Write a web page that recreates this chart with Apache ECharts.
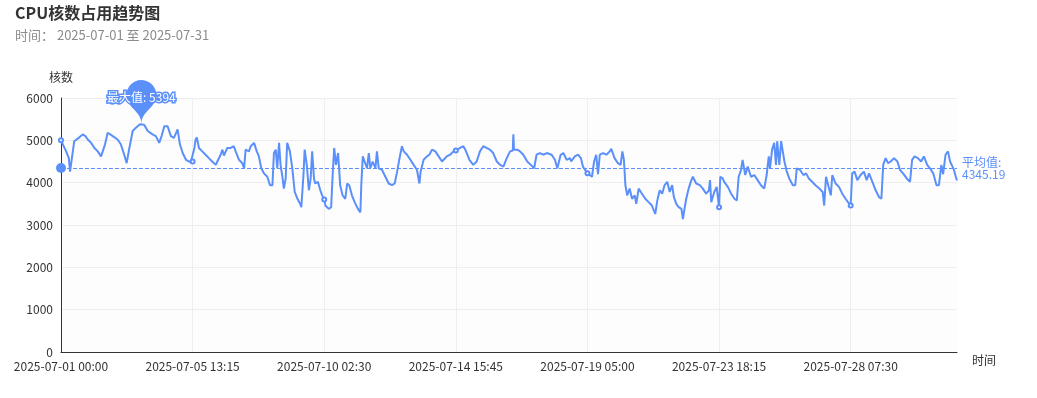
<!DOCTYPE html>
<html>
<head>
<meta charset="utf-8">
<script src="https://cdn.jsdelivr.net/npm/echarts@6/dist/echarts.min.js"></script>
<style>html,body{margin:0;padding:0;background:#fff;}#c{width:1037px;height:398px;}</style>
</head>
<body>
<div id="c"></div>
<script>
const TITLE = 'CPU核数占用趋势图';
const SUBTITLE = '时间： 2025-07-01 至 2025-07-31';
const Y_NAME = '核数';
const X_NAME = '时间';
const AVG_VALUE = 4345.19;
const Y_TICKS = [0, 1000, 2000, 3000, 4000, 5000, 6000];

// categories: 15-minute slots across July 2025
const pad = n => String(n).padStart(2, '0');
const categories = [];
for (let d = 1; d <= 31; d++) {
  for (let m = 0; m < 1440; m += 15) {
    categories.push('2025-07-' + pad(d) + ' ' + pad(Math.floor(m / 60)) + ':' + pad(m % 60));
  }
}

// [category index, cores]
const cpuSeries = [
[0,5000],[17,4740],[26,4580],[30,4260],[33,4240],[44,4980],[50,4990],[61,5070],[72,5140],[81,5100],[89,5020],
[100,4940],[111,4820],[122,4740],[133,4620],[139,4600],[146,4900],[155,5180],[172,5100],[188,5020],[199,4900],
[210,4660],[218,4460],[227,4820],[238,5220],[249,5300],[262,5380],[267,5394],[276,5370],[288,5220],[304,5140],
[315,5100],[326,4940],[334,5100],[343,5330],[354,5330],[365,5100],[375,5060],[387,5260],[395,4900],[404,4700],
[415,4540],[419,4540],[431,4480],[437,4500],[443,4820],[447,5020],[451,5070],[458,4820],[469,4740],[480,4660],
[491,4580],[502,4500],[514,4420],[519,4500],[530,4660],[536,4780],[541,4640],[552,4820],[563,4820],[574,4860],
[580,4740],[591,4540],[602,4460],[608,4340],[613,4780],[624,4740],[630,4860],[641,4940],[650,4740],[657,4620],
[665,4340],[674,4220],[685,4140],[694,3940],[702,3940],[707,4700],[713,4780],[718,4340],[724,4940],[729,4420],
[735,4140],[740,3860],[746,4100],[751,4940],[760,4740],[768,4340],[776,3780],[785,3620],[794,3500],[798,3420],
[805,4180],[809,4780],[816,4420],[823,3820],[829,4100],[834,4740],[840,4100],[844,3980],[853,4020],[861,3820],
[867,3700],[874,3600],[878,3460],[889,3380],[897,3420],[902,4180],[907,4820],[913,4420],[920,4700],[927,3940],
[935,3700],[944,3620],[950,3980],[957,3940],[966,3700],[975,3540],[986,3380],[994,3300],[997,3940],[1002,4620],
[1008,4500],[1016,4340],[1022,4700],[1027,4340],[1035,4500],[1044,4340],[1049,4740],[1055,4340],[1066,4300],
[1077,4140],[1088,3980],[1099,3940],[1108,3980],[1116,4260],[1123,4540],[1132,4860],[1138,4740],[1149,4660],
[1160,4540],[1171,4420],[1182,4300],[1190,3980],[1194,4260],[1204,4540],[1215,4620],[1223,4660],[1232,4780],
[1243,4740],[1254,4620],[1265,4500],[1269,4460],[1281,4620],[1292,4660],[1303,4740],[1311,4760],[1314,4780],
[1325,4820],[1336,4860],[1345,4740],[1356,4540],[1369,4420],[1380,4500],[1391,4740],[1402,4860],[1413,4820],
[1424,4780],[1435,4700],[1447,4500],[1458,4420],[1469,4380],[1480,4580],[1491,4740],[1500,4760],[1502,5140],
[1504,4780],[1515,4780],[1524,4740],[1535,4660],[1548,4500],[1560,4420],[1571,4340],[1579,4660],[1590,4700],
[1601,4660],[1613,4700],[1629,4660],[1640,4540],[1648,4340],[1659,4660],[1668,4700],[1679,4540],[1690,4580],
[1694,4500],[1706,4620],[1717,4660],[1726,4580],[1733,4380],[1744,4260],[1748,4220],[1755,4180],[1763,4140],
[1770,4500],[1777,4660],[1783,4200],[1789,4660],[1800,4700],[1811,4660],[1822,4740],[1827,4800],[1838,4580],
[1849,4460],[1858,4420],[1864,4740],[1869,4540],[1874,3940],[1880,3700],[1888,3860],[1896,3620],[1905,3700],
[1910,3500],[1918,3860],[1929,3740],[1940,3620],[1951,3540],[1962,3460],[1973,3260],[1980,3580],[1988,3820],
[1996,3740],[2004,3940],[2013,4020],[2021,3780],[2029,3940],[2035,3660],[2043,3500],[2051,3420],[2060,3380],
[2065,3140],[2071,3420],[2076,3620],[2084,3860],[2093,4060],[2098,4140],[2109,3980],[2121,3940],[2131,3860],
[2142,3740],[2151,3820],[2155,4060],[2159,3540],[2169,3780],[2177,3900],[2185,3420],[2189,4140],[2197,4100],
[2202,4020],[2214,3900],[2225,3740],[2236,3620],[2244,3580],[2250,4140],[2258,4300],[2263,4540],[2272,4180],
[2280,4380],[2291,4140],[2302,4180],[2313,4060],[2324,3940],[2335,3860],[2343,4180],[2350,4620],[2354,4340],
[2361,4780],[2368,4940],[2374,4420],[2378,4980],[2385,4420],[2391,4980],[2396,4980],[2402,4500],[2410,4260],
[2418,4100],[2430,3940],[2438,3940],[2443,4340],[2454,4300],[2465,4180],[2474,4220],[2483,4100],[2494,4020],
[2505,3940],[2518,3860],[2529,3780],[2534,3460],[2540,4140],[2544,4100],[2556,3700],[2561,4180],[2572,3980],
[2583,3900],[2594,3740],[2605,3620],[2613,3540],[2622,3460],[2627,4220],[2635,4260],[2644,4060],[2655,4180],
[2666,4260],[2675,4060],[2683,4220],[2694,4020],[2705,3820],[2716,3660],[2724,3620],[2730,4420],[2738,4580],
[2746,4460],[2755,4500],[2766,4580],[2777,4500],[2786,4300],[2796,4220],[2808,4100],[2819,4020],[2826,4540],
[2834,4620],[2845,4580],[2856,4500],[2865,4620],[2876,4420],[2885,4340],[2896,4220],[2907,3940],[2915,3940],
[2923,4420],[2929,4200],[2937,4660],[2945,4740],[2952,4500],[2960,4380],[2965,4300],[2971,4140],[2975,4050]
];

const LINE_COLOR = '#5b8ff9';
const FONT = '"Noto Sans CJK SC", "Noto Sans", sans-serif';

const chart = echarts.init(document.getElementById('c'), null, {renderer: 'canvas'});
chart.setOption({
  animation: false,
  textStyle: {fontFamily: FONT},
  title: {
    text: TITLE,
    subtext: SUBTITLE,
    left: 10,
    top: 0,
    itemGap: 8,
    textStyle: {fontSize: 16, fontWeight: 'bold', color: '#333', fontFamily: FONT},
    subtextStyle: {fontSize: 13, color: '#8c8c8c', fontFamily: FONT}
  },
  grid: {left: 61, right: 80, top: 98, bottom: 46, show: true, backgroundColor: '#fdfdfd', borderWidth: 0},
  xAxis: {
    type: 'category',
    data: categories,
    boundaryGap: false,
    name: X_NAME,
    nameGap: 15,
    nameTextStyle: {color: '#333', fontSize: 12, verticalAlign: 'top', padding: [2, 0, 0, 0]},
    axisLine: {show: true, lineStyle: {color: '#333'}},
    axisTick: {show: false},
    axisLabel: {interval: 436, color: '#333', fontSize: 12, margin: 8},
    splitLine: {show: true, interval: 436, lineStyle: {color: '#eee'}}
  },
  yAxis: {
    type: 'value',
    min: Y_TICKS[0],
    max: Y_TICKS[Y_TICKS.length - 1],
    interval: 1000,
    name: Y_NAME,
    nameTextStyle: {color: '#333', fontSize: 12},
    axisLine: {show: true, lineStyle: {color: '#333'}},
    axisTick: {show: false},
    axisLabel: {color: '#333', fontSize: 12, formatter: v => String(v)},
    splitLine: {show: true, lineStyle: {color: '#eee'}}
  },
  series: [{
    type: 'line',
    data: cpuSeries,
    color: LINE_COLOR,
    lineStyle: {width: 2, color: LINE_COLOR},
    symbol: 'emptyCircle',
    symbolSize: 4,
    markPoint: {
      data: [{type: 'max', name: '最大值'}],
      label: {formatter: '{b}: {c}', fontSize: 12, color: '#fff', textBorderColor: LINE_COLOR, textBorderWidth: 3},
      itemStyle: {color: LINE_COLOR}
    },
    markLine: {
      silent: true,
      symbol: ['circle', 'none'],
      symbolSize: 10,
      data: [{yAxis: AVG_VALUE, name: '平均值'}],
      lineStyle: {type: 'dashed', width: 1, color: LINE_COLOR},
      label: {position: 'end', formatter: '{b}:\n{c}', color: LINE_COLOR, fontSize: 12}
    }
  }]
});
</script>
</body>
</html>
